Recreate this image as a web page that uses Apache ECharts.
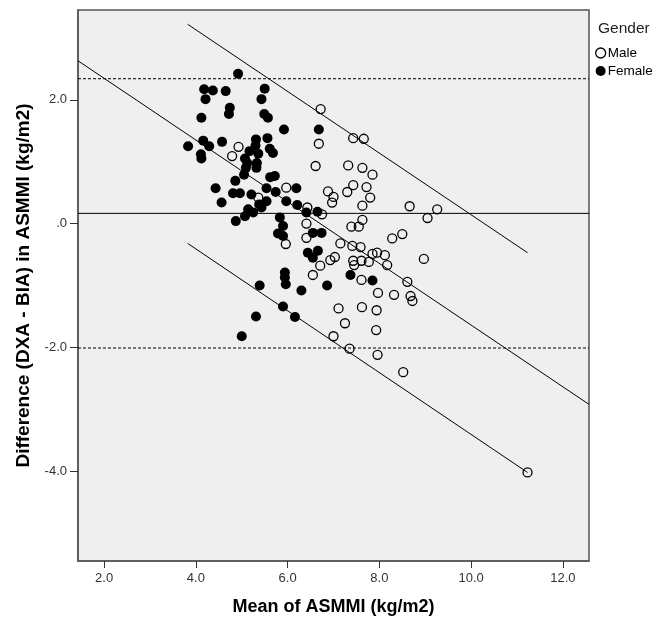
<!DOCTYPE html>
<html>
<head>
<meta charset="utf-8">
<script src="https://cdn.jsdelivr.net/npm/echarts@6/dist/echarts.min.js"></script>
<style>html,body{margin:0;padding:0;background:#fff}#chart{width:654px;height:621px}</style>
</head>
<body>
<div id="chart"></div>
<script>
// Female points [mean, difference]
var female = [
[4.92,2.42],[4.18,2.17],[4.37,2.15],[4.21,2.01],[4.65,2.14],[5.50,2.18],[5.43,2.01],[4.74,1.87],[4.72,1.77],
[4.12,1.71],[5.49,1.77],[5.57,1.71],[5.92,1.52],[3.83,1.25],[4.16,1.34],[4.29,1.25],[4.57,1.32],[4.11,1.12],
[4.12,1.05],[5.31,1.36],[5.56,1.38],[5.30,1.26],[5.17,1.17],[5.61,1.21],[5.68,1.14],[5.36,1.13],[5.07,1.05],
[5.12,0.98],[5.33,0.98],[5.09,0.90],[5.32,0.90],[5.05,0.79],[5.62,0.75],[5.72,0.77],[4.86,0.69],[4.43,0.57],
[4.81,0.49],[4.96,0.49],[5.21,0.47],[5.54,0.57],[5.74,0.51],[4.56,0.34],[5.38,0.31],[5.54,0.36],[5.43,0.26],
[5.97,0.36],[5.14,0.23],[5.25,0.18],[5.07,0.12],[4.87,0.04],[5.83,0.10],[5.90,-0.04],[5.79,-0.16],[5.90,-0.20],
[5.94,-0.79],[5.94,-0.87],[5.96,-0.98],[5.39,-1.00],[5.90,-1.34],[5.31,-1.50],[5.00,-1.82],[6.16,-1.51],
[6.68,1.52],[6.19,0.57],[6.21,0.30],[6.41,0.18],[6.65,0.19],[6.55,-0.15],[6.74,-0.15],[6.44,-0.47],[6.66,-0.44],
[6.55,-0.55],[6.30,-1.08],[6.86,-1.00],[7.37,-0.83],[7.85,-0.92]
];
// Male points [mean, difference]
var male = [
[4.93,1.24],[4.79,1.09],[5.36,0.42],[5.97,0.58],[5.96,-0.33],[6.72,1.85],[6.68,1.29],[7.43,1.38],[7.66,1.37],
[6.61,0.93],[7.32,0.94],[7.63,0.90],[7.85,0.79],[7.43,0.62],[7.72,0.59],[6.88,0.52],[7.30,0.51],[7.00,0.43],
[6.97,0.34],[7.80,0.42],[7.63,0.29],[6.43,0.26],[6.75,0.15],[8.66,0.28],[6.41,0.00],[7.63,0.06],[7.39,-0.05],
[7.55,-0.05],[9.26,0.23],[9.05,0.09],[8.28,-0.24],[8.50,-0.17],[7.15,-0.32],[7.41,-0.36],[7.59,-0.38],[7.85,-0.49],
[7.95,-0.47],[8.12,-0.51],[7.03,-0.54],[6.93,-0.59],[7.43,-0.60],[7.61,-0.60],[7.77,-0.62],[7.45,-0.67],[8.17,-0.67],
[8.97,-0.57],[6.71,-0.68],[6.55,-0.83],[6.41,-0.23],[7.61,-0.91],[8.61,-0.94],[7.97,-1.12],[8.32,-1.15],[8.68,-1.17],
[8.72,-1.25],[7.11,-1.37],[7.62,-1.35],[7.94,-1.40],[7.25,-1.61],[7.93,-1.72],[7.00,-1.82],[7.35,-2.02],[7.96,-2.12],
[8.52,-2.40],[11.23,-4.02]
];
// Regression line and its bounds (endpoints)
var fitLine = [[1.43,2.63],[12.57,-2.92]];
var fitUpper = [[3.82,3.22],[11.23,-0.47]];
var fitLower = [[3.82,-0.32],[11.23,-4.02]];
// Mean difference and limits of agreement
var meanDiff = 0.165;
var upperLoA = 2.34;
var lowerLoA = -2.01;
var xTicks = [2,4,6,8,10,12];
var yTicks = [2,0,-2,-4];
var xMin = 1.43, xMax = 12.57, yMin = -5.45, yMax = 3.45;

var FONT = 'Arial, "Liberation Sans", sans-serif';
function hLine(v){ return [[xMin,v],[xMax,v]]; }
function lineSeries(data, dashed){
  return {type:'line', data:data, symbol:'none', silent:true, z:3,
    lineStyle:{color:'#000', width:1, opacity:1, type: dashed ? [3,2] : 'solid'}, animation:false};
}
var chart = echarts.init(document.getElementById('chart'), null, {renderer:'canvas'});
chart.setOption({
  animation:false,
  backgroundColor:'#fff',
  grid:{left:78, right:65, top:10, bottom:58, show:true, backgroundColor:'#efefef', borderColor:'#555', borderWidth:1.5},
  title:{text:'Gender', left:598, top:21, padding:0, textStyle:{fontFamily:FONT, fontSize:15.5, fontWeight:'normal', color:'#222'}},
  legend:{orient:'vertical', left:595, top:46, padding:0, itemWidth:10, itemHeight:10, itemGap:4,
    textStyle:{fontFamily:FONT, fontSize:13.5, color:'#000', padding:[0,0,0,-3]},
    data:[{name:'Male', icon:'circle', itemStyle:{color:'rgba(0,0,0,0)', borderColor:'#000', borderWidth:1.3, opacity:1}},
          {name:'Female', icon:'circle', itemStyle:{color:'#000', opacity:1}}]},
  xAxis:{type:'value', min:xMin, max:xMax,
    name:'Mean of ASMMI (kg/m2)', nameLocation:'middle', nameGap:37,
    nameTextStyle:{fontFamily:FONT, fontSize:18, fontWeight:'bold', color:'#000'},
    axisLine:{show:true, onZero:false, lineStyle:{color:'#555', width:1.5}},
    axisTick:{show:true, length:7, inside:false, customValues:xTicks, lineStyle:{color:'#333'}},
    axisLabel:{customValues:xTicks, fontFamily:FONT, fontSize:13, color:'#333', margin:11,
      formatter:function(v){return v.toFixed(1);}},
    splitLine:{show:false}},
  yAxis:{type:'value', min:yMin, max:yMax,
    name:'Difference (DXA - BIA) in ASMMI (kg/m2)', nameLocation:'middle', nameGap:37,
    nameTextStyle:{fontFamily:FONT, fontSize:19, fontWeight:'bold', color:'#000'},
    axisLine:{show:true, onZero:false, lineStyle:{color:'#555', width:1.5}},
    axisTick:{show:true, length:8, customValues:yTicks, lineStyle:{color:'#333'}},
    axisLabel:{customValues:yTicks, fontFamily:FONT, fontSize:13, color:'#333', margin:11,
      formatter:function(v){ return v===0 ? '.0' : v.toFixed(1); }},
    splitLine:{show:false}},
  series:[
    lineSeries(hLine(meanDiff), false),
    lineSeries(hLine(upperLoA), true),
    lineSeries(hLine(lowerLoA), true),
    lineSeries(fitLine, false),
    lineSeries(fitUpper, false),
    lineSeries(fitLower, false),
    {name:'Male', type:'scatter', data:male, symbol:'circle', symbolSize:9, z:5,
      itemStyle:{color:'rgba(0,0,0,0)', borderColor:'#000', borderWidth:1.3, opacity:1}},
    {name:'Female', type:'scatter', data:female, symbol:'circle', symbolSize:10, z:6,
      itemStyle:{color:'#000', opacity:1}}
  ]
});
</script>
</body>
</html>
